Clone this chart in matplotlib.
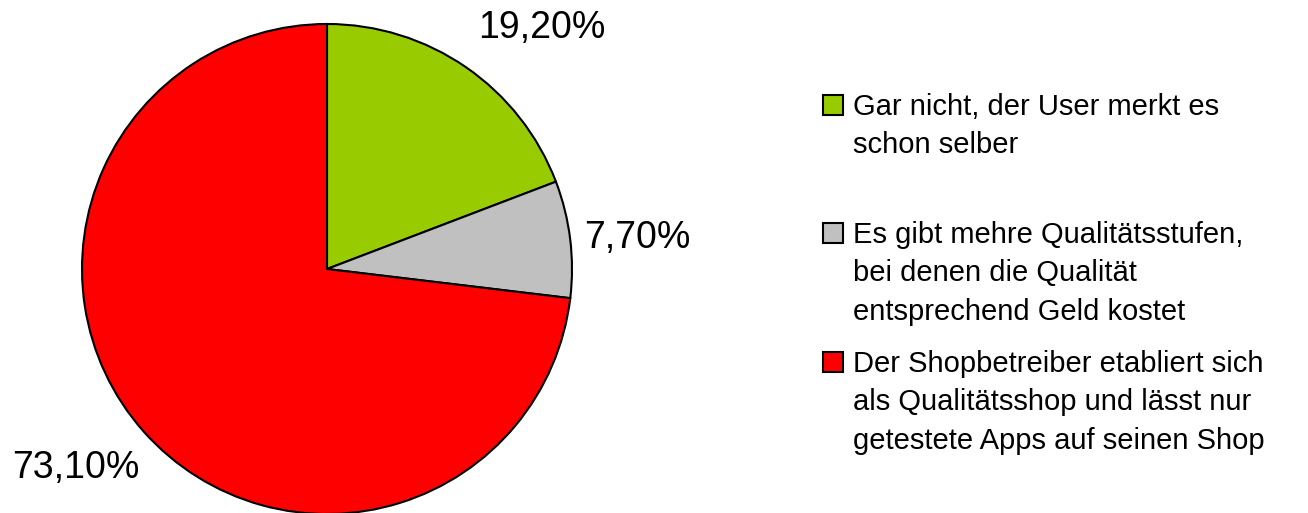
import matplotlib.pyplot as plt
from matplotlib.patches import Rectangle

plt.rcParams['font.family'] = ['Liberation Sans', 'DejaVu Sans']

# data
shares = [19.2, 7.7, 73.1]
pct_labels = ['19,20%', '7,70%', '73,10%']
legend_lines = [
    ['Gar nicht, der User merkt es', 'schon selber'],
    ['Es gibt mehre Qualitätsstufen,', 'bei denen die Qualität', 'entsprechend Geld kostet'],
    ['Der Shopbetreiber etabliert sich', 'als Qualitätsshop und lässt nur', 'getestete Apps auf seinen Shop'],
]
colors = ['#99CC00', '#C0C0C0', '#FF0000']

W, H = 1308, 513
cx, cy, R = 327, 269, 245  # pie centre/radius in pixels


def px(x, y):
    # pixel (from top-left) -> data coords (pie radius = 1)
    return (x - cx) / R, (cy - y) / R


fig = plt.figure(figsize=(W / 100, H / 100), dpi=100)
ax = fig.add_axes([0, 0, 1, 1])

wedges, texts = ax.pie(shares, colors=colors, startangle=90, counterclock=False,
                       labels=pct_labels, labeldistance=1.3,
                       wedgeprops=dict(edgecolor='black', linewidth=1.5),
                       textprops=dict(fontsize=27, ha='center', va='center'))

# label positions as in the original
label_pos = [(542, 28), (637, 238), (76, 468)]
for t, p in zip(texts, label_pos):
    t.set_position(px(*p))

ax.set_xlim(-cx / R, (W - cx) / R)
ax.set_ylim(-(H - cy) / R, cy / R)
ax.set_aspect('equal')
ax.axis('off')

# legend drawn by hand
box_y = [105, 233, 362]
line_gap = 38.5
for i, lines in enumerate(legend_lines):
    x0, y0 = px(823, box_y[i] + 10)
    ax.add_patch(Rectangle((x0, y0), 20 / R, 20 / R, facecolor=colors[i],
                           edgecolor='black', linewidth=1.5, clip_on=False))
    for j, line in enumerate(lines):
        tx, ty = px(853, box_y[i] + 10 + j * line_gap)
        ax.text(tx, ty, line, fontsize=21, ha='left', va='baseline')

fig.savefig('out.png', dpi=100)
